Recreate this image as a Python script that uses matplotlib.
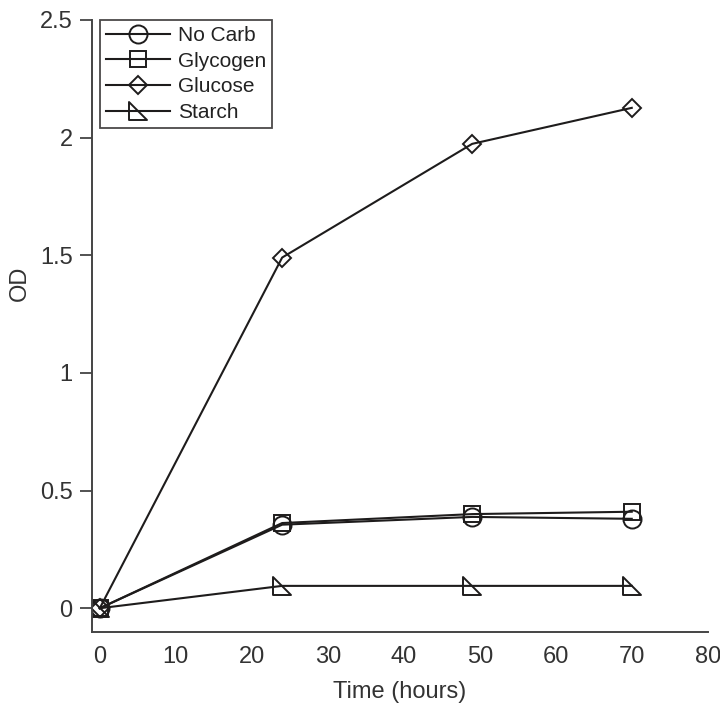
import numpy as np
import matplotlib
matplotlib.use('Agg')
import matplotlib.pyplot as plt
from matplotlib.path import Path

plt.rcParams['font.family'] = ['Liberation Sans', 'DejaVu Sans']

# データ
time_h = [0, 24, 49, 70]
no_carb = [0.0, 0.355, 0.388, 0.38]
glycogen = [0.0, 0.362, 0.40, 0.41]
glucose = [0.0, 1.49, 1.973, 2.126]
starch = [0.0, 0.095, 0.095, 0.095]

series = [
    ('No Carb', no_carb, 'o', 13),
    ('Glycogen', glycogen, 's', 12),
    ('Glucose', glucose, 'D', 9),
    ('Starch', starch, None, 13),
]

# 直角三角形マーカー
tri = Path([(-1, 1), (-1, -1), (1, -1), (-1, 1)],
           [Path.MOVETO, Path.LINETO, Path.LINETO, Path.CLOSEPOLY])

ink = '#1e1c1c'

fig = plt.figure(figsize=(7.2, 7.08), dpi=100)
ax = fig.add_axes([0.128, 0.107, 0.855, 0.865])

for label, vals, mk, ms in series:
    marker = tri if mk is None else mk
    ax.plot(time_h, vals, color=ink, lw=1.5, marker=marker, markersize=ms,
            markerfacecolor='none', markeredgecolor=ink, markeredgewidth=1.4,
            label=label)

ax.set_xlim(-1, 80)
ax.set_ylim(-0.102, 2.5)
ax.set_xticks(np.arange(0, 81, 10))
ax.set_yticks([0, 0.5, 1, 1.5, 2, 2.5])
ax.set_yticklabels(['0', '0.5', '1', '1.5', '2', '2.5'])

for s in ['top', 'right']:
    ax.spines[s].set_visible(False)
for s in ['left', 'bottom']:
    ax.spines[s].set_color('#444444')
    ax.spines[s].set_linewidth(1.4)

ax.tick_params(axis='y', direction='out', length=9, width=1.3, color='#444444',
               labelsize=17, labelcolor='#333333', pad=5)
ax.tick_params(axis='x', length=0, labelsize=17, labelcolor='#333333', pad=10)

ax.set_xlabel('Time (hours)', fontsize=17, color='#333333', labelpad=9)
ax.set_ylabel('OD', fontsize=17, color='#333333')
ax.yaxis.set_label_coords(-0.10, 0.57)

leg = ax.legend(loc='upper left', bbox_to_anchor=(0.012, 1.0), fontsize=15,
                frameon=True, fancybox=False, edgecolor=ink, handlelength=3.1,
                handletextpad=0.35, labelspacing=0.32, borderpad=0.3,
                borderaxespad=0.0)
leg.get_frame().set_linewidth(1.3)
for t in leg.get_texts():
    t.set_color('#222222')

fig.savefig('out.png', dpi=100, facecolor='white')
